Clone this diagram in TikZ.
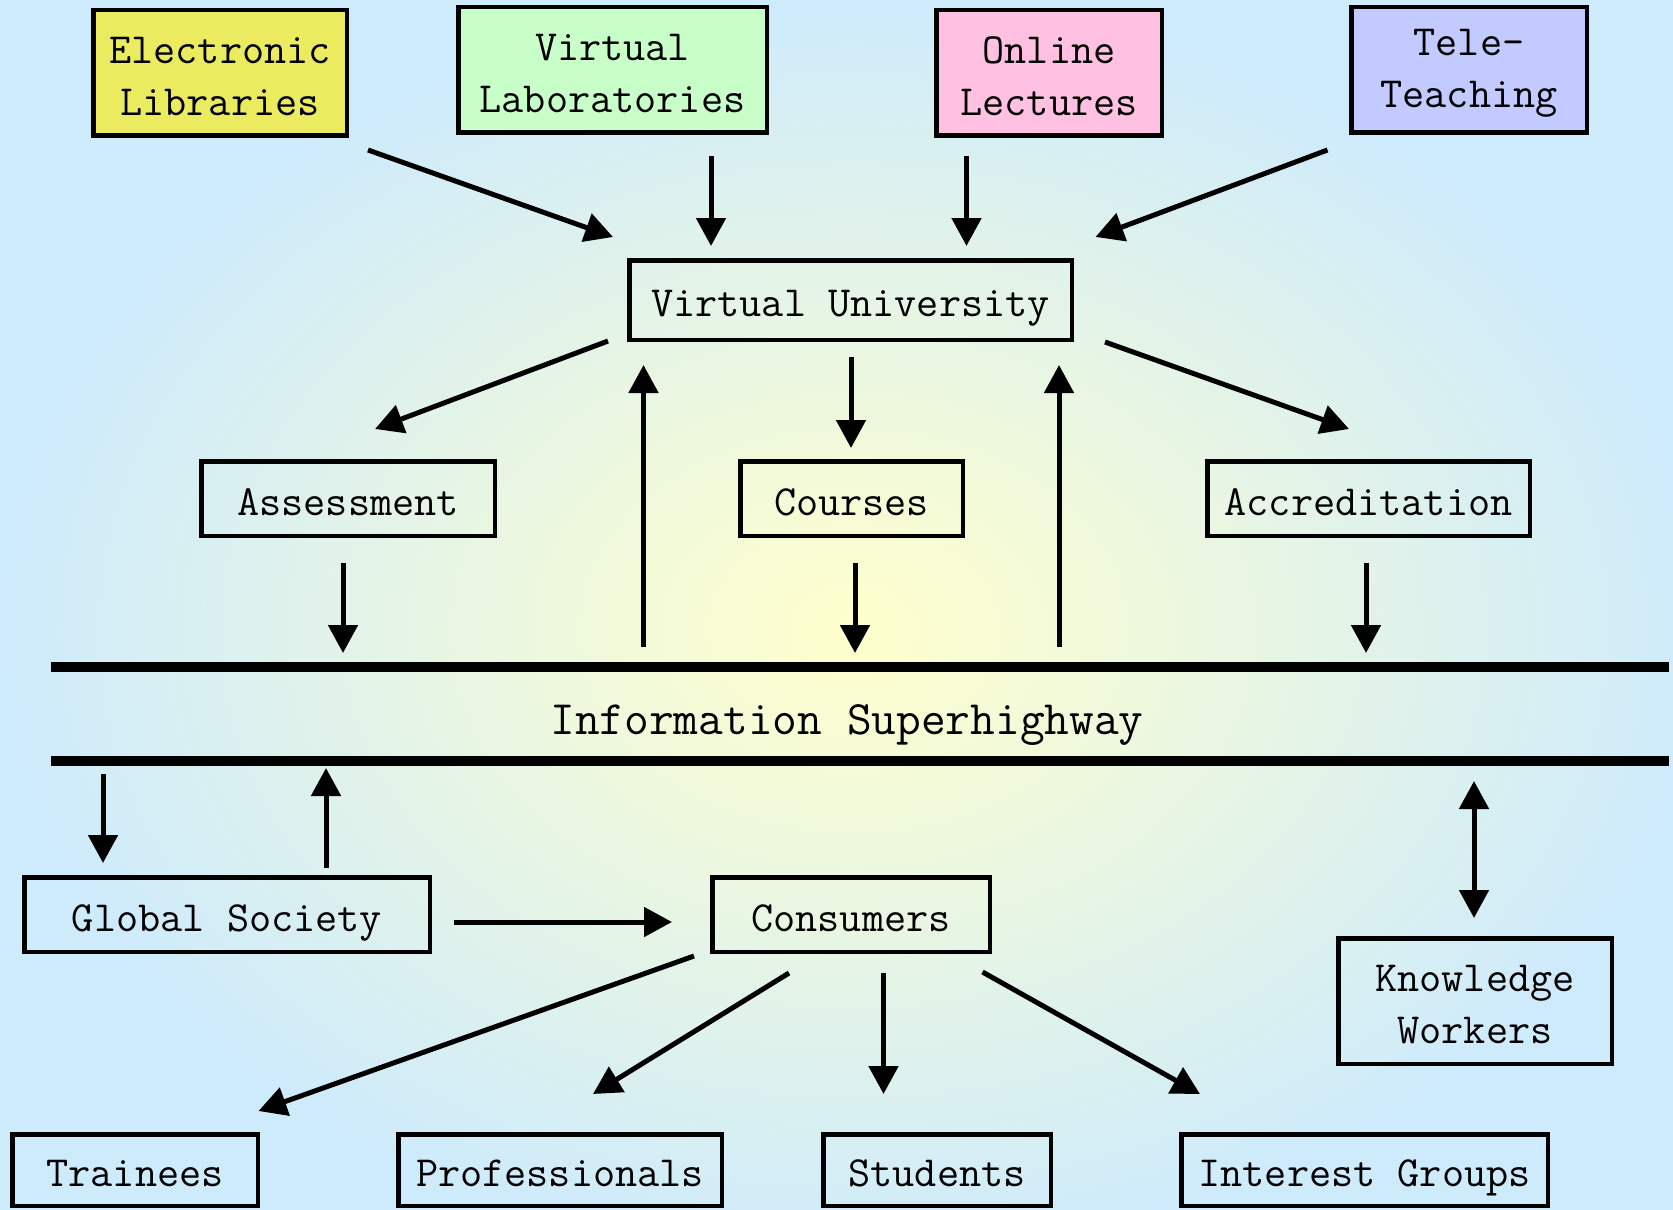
\documentclass[tikz,border=0pt]{standalone}
\usepackage{fontspec}
\usetikzlibrary{arrows.meta}

\definecolor{bgcentre}{RGB}{255,255,204}
\definecolor{bgedge}{RGB}{206,235,252}
\definecolor{elfill}{RGB}{235,235,95}
\definecolor{vlfill}{RGB}{200,255,200}
\definecolor{olfill}{RGB}{255,192,226}
\definecolor{ttfill}{RGB}{194,202,255}

% extra head room on the first line of two-line labels
\newcommand\firstlinestrut{\rule{0pt}{16.5pt}}

\tikzset{
  labelfont/.style={font=\ttfamily\fontsize{21.5}{26}\selectfont},
  box/.style={draw=black, line width=2.25pt, inner sep=0pt, align=center, labelfont},
  single/.style={text height=17.5pt, text depth=1pt},
  twoline/.style={minimum height=62.75pt},
  oneline/.style={minimum height=37.25pt, single},
  lowrow/.style={minimum height=35.75pt, single},
  arr/.style={line width=2.5pt, -{Triangle[length=14pt,width=14.5pt]}},
  darr/.style={line width=2.5pt, {Triangle[length=14pt,width=14.5pt]}-{Triangle[length=14pt,width=14.5pt]}},
  road/.style={line width=5pt}
}

\begin{document}
\begin{tikzpicture}[x=0.5pt, y=-0.5pt]
  \useasboundingbox (0,0) rectangle (1673,1209);

  % background: soft radial blend, warm centre to pale blue rim
  \begin{scope}
    \clip (0,0) rectangle (1673,1209);
    \shade[inner color=bgcentre, outer color=bgedge] (0,0) rectangle (1706,1260);
  \end{scope}

  % sources feeding the university
  \node[box, twoline, fill=elfill, minimum width=126.75pt] (el) at (220,73)    {\firstlinestrut Electronic\\Libraries};
  \node[box, twoline, fill=vlfill, minimum width=154.25pt] (vl) at (612.5,70)  {\firstlinestrut Virtual\\Laboratories};
  \node[box, twoline, fill=olfill, minimum width=112.75pt] (ol) at (1049,73)   {\firstlinestrut Online\\Lectures};
  \node[box, twoline, fill=ttfill, minimum width=117.75pt] (tt) at (1469,70)   {\firstlinestrut Tele-\\Teaching};

  \node[box, single, minimum width=221.25pt, minimum height=39.75pt] (vu) at (850.5,300) {Virtual University};

  \node[box, oneline, minimum width=146.75pt] (as) at (348,498.5)    {Assessment};
  \node[box, oneline, minimum width=111.25pt] (co) at (851.5,498.5)  {Courses};
  \node[box, oneline, minimum width=161.25pt] (ac) at (1368.5,498.5) {Accreditation};

  % the superhighway band
  \node[font=\ttfamily\fontsize{24}{28}\selectfont, inner sep=0pt] (hw) at (847,725) {Information Superhighway};
  \coordinate (hwtl) at (50.5,666.5);
  \coordinate (hwtr) at (1669,666.5);
  \coordinate (hwbl) at (50.5,760.7);
  \coordinate (hwbr) at (1669,760.7);
  \draw[road] (hwtl) -- (hwtr);
  \draw[road] (hwbl) -- (hwbr);

  \node[box, oneline, minimum width=202.75pt] (gs) at (227,914.5)  {Global Society};
  \node[box, oneline, minimum width=138.75pt] (cn) at (851,914.5)  {Consumers};
  \node[box, twoline, minimum width=136.75pt] (kw) at (1475,1001)  {\firstlinestrut Knowledge\\Workers};

  \node[box, lowrow, minimum width=122.75pt] (tr) at (135,1170)    {Trainees};
  \node[box, lowrow, minimum width=161.75pt] (pr) at (560,1170)    {Professionals};
  \node[box, lowrow, minimum width=113.75pt] (st) at (937,1170)    {Students};
  \node[box, lowrow, minimum width=183.25pt] (ig) at (1364.5,1170) {Interest Groups};

  % connector end points
  \coordinate (el-o) at (368,150);    \coordinate (vu-i1) at (613,237);
  \coordinate (vl-o) at (711,156);    \coordinate (vu-i2) at (711,246);
  \coordinate (ol-o) at (966.5,156);  \coordinate (vu-i3) at (966.5,246);
  \coordinate (tt-o) at (1327.5,150); \coordinate (vu-i4) at (1095.5,237);

  \coordinate (vu-o1) at (608,341);   \coordinate (as-i) at (375,429);
  \coordinate (vu-o2) at (851,357);   \coordinate (co-i) at (851,448);
  \coordinate (vu-o3) at (1105,342);  \coordinate (ac-i) at (1349,429);

  \coordinate (hw-u1) at (643.5,647); \coordinate (vu-i5) at (643.5,365);
  \coordinate (hw-u2) at (1059,647);  \coordinate (vu-i6) at (1059,365);

  \coordinate (as-o) at (343,563);    \coordinate (hw-i1) at (343,653);
  \coordinate (co-o) at (855,563);    \coordinate (hw-i2) at (855,653);
  \coordinate (ac-o) at (1366,563);   \coordinate (hw-i3) at (1366,653);

  \coordinate (hw-d1) at (103,774);   \coordinate (gs-i) at (103,863);
  \coordinate (gs-o1) at (326,868);   \coordinate (hw-i4) at (326,768);
  \coordinate (gs-o2) at (454,922);   \coordinate (cn-i) at (672,922);

  \coordinate (cn-o1) at (694,956);   \coordinate (tr-i) at (258.5,1111);
  \coordinate (cn-o2) at (789,973);   \coordinate (pr-i) at (593,1094);
  \coordinate (cn-o3) at (883.5,973); \coordinate (st-i) at (883.5,1094);
  \coordinate (cn-o4) at (982.5,972); \coordinate (ig-i) at (1200,1094);

  \coordinate (hw-kw) at (1474,781);  \coordinate (kw-t) at (1474,918);

  % connectors
  \draw[arr] (el-o) -- (vu-i1);
  \draw[arr] (vl-o) -- (vu-i2);
  \draw[arr] (ol-o) -- (vu-i3);
  \draw[arr] (tt-o) -- (vu-i4);

  \draw[arr] (vu-o1) -- (as-i);
  \draw[arr] (vu-o2) -- (co-i);
  \draw[arr] (vu-o3) -- (ac-i);

  \draw[arr] (hw-u1) -- (vu-i5);
  \draw[arr] (hw-u2) -- (vu-i6);

  \draw[arr] (as-o) -- (hw-i1);
  \draw[arr] (co-o) -- (hw-i2);
  \draw[arr] (ac-o) -- (hw-i3);

  \draw[arr] (hw-d1) -- (gs-i);
  \draw[arr] (gs-o1) -- (hw-i4);
  \draw[arr] (gs-o2) -- (cn-i);

  \draw[arr] (cn-o1) -- (tr-i);
  \draw[arr] (cn-o2) -- (pr-i);
  \draw[arr] (cn-o3) -- (st-i);
  \draw[arr] (cn-o4) -- (ig-i);

  \draw[darr] (hw-kw) -- (kw-t);
\end{tikzpicture}
\end{document}
